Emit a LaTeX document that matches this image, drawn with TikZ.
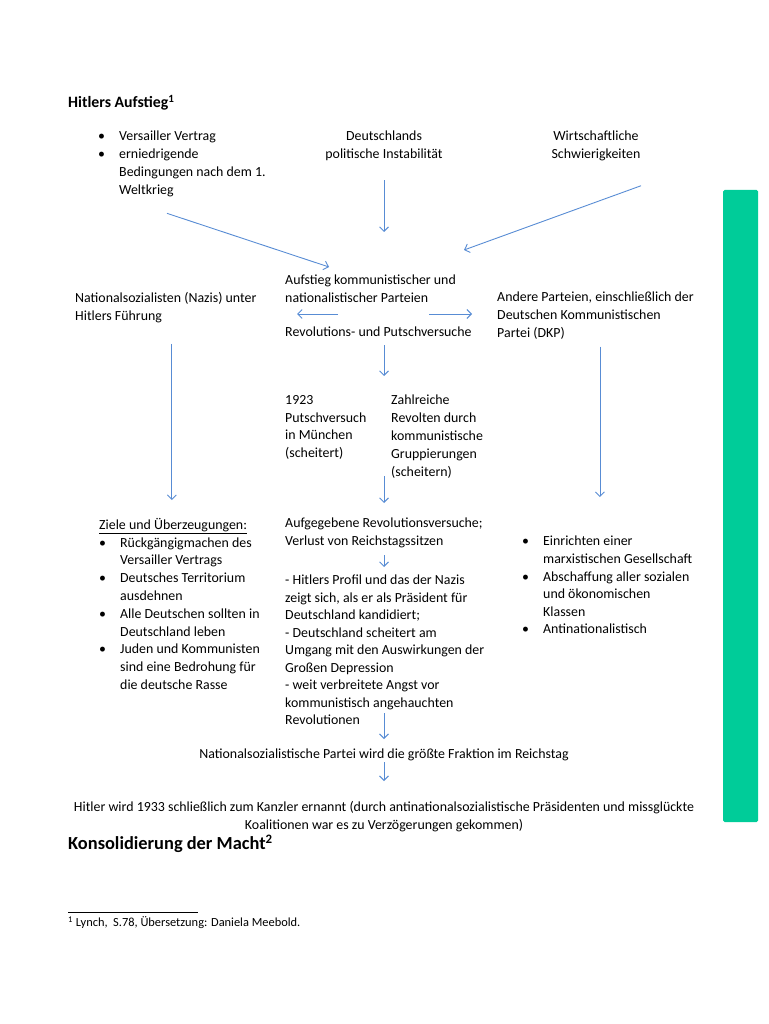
\documentclass[tikz,border=0pt]{standalone}
\usepackage{fontspec}
\setmainfont{Carlito}
\usetikzlibrary{arrows.meta}
\definecolor{arrowblue}{RGB}{88,140,212}
\definecolor{sidegreen}{RGB}{0,204,153}
\newcommand{\bul}{\makebox[21pt][l]{\textbullet}}
\newcommand{\hang}{\hspace*{21pt}}
\begin{document}
\begin{tikzpicture}[x=1pt, y=-1pt, >={Straight Barb[length=4.5pt,width=9pt]},
	txt/.style={inner sep=0pt, align=left, font=\fontsize{13.9}{17.8}\selectfont},
	ctr/.style={txt, align=center},
	arr/.style={->, draw=arrowblue, line width=0.9pt}]
	\useasboundingbox (0,0) rectangle (768,1024);
	\fill[sidegreen, rounded corners=1.5pt] (723,190) rectangle (758,822);
	% top row
	\node[txt, anchor=west, font=\bfseries\fontsize{15.8}{18}\selectfont] (title) at (68,102.5) {Hitlers Aufstieg\textsuperscript{1}};
	\node[txt, anchor=north west] (vers) at (98,131) {\bul Versailler Vertrag\\\bul erniedrigende\\\hang Bedingungen nach dem 1.\\\hang Weltkrieg};
	\node[ctr, anchor=north] (pol) at (384,131) {Deutschlands\\politische Instabilität};
	\node[ctr, anchor=north] (wirt) at (596,131) {Wirtschaftliche\\Schwierigkeiten};
	% middle row
	\node[txt, anchor=north west] (auf) at (285,275) {Aufstieg kommunistischer und\\nationalistischer Parteien};
	\node[txt, anchor=north west] (rev) at (285,327) {Revolutions- und Putschversuche};
	\node[txt, anchor=north west] (nazis) at (75,292) {Nationalsozialisten (Nazis) unter\\Hitlers Führung};
	\node[txt, anchor=north west] (andere) at (497,292) {Andere Parteien, einschließlich der\\Deutschen Kommunistischen\\Partei (DKP)};
	\node[txt, anchor=north west] (putsch) at (285,395) {1923\\Putschversuch\\in München\\(scheitert)};
	\node[txt, anchor=north west] (zahl) at (391,395) {Zahlreiche\\Revolten durch\\kommunistische\\Gruppierungen\\(scheitern)};
	% lower row
	\node[txt, anchor=north west] (ziele) at (99,518) {\underline{Ziele und Überzeugungen:}\\\bul Rückgängigmachen des\\\hang Versailler Vertrags\\\bul Deutsches Territorium\\\hang ausdehnen\\\bul Alle Deutschen sollten in\\\hang Deutschland leben\\\bul Juden und Kommunisten\\\hang sind eine Bedrohung für\\\hang die deutsche Rasse};
	\node[txt, anchor=north west] (aufg) at (285,518) {Aufgegebene Revolutionsversuche;\\Verlust von Reichstagssitzen};
	\node[txt, anchor=north west, font=\fontsize{13.9}{17.5}\selectfont] (profil) at (285,575) {- Hitlers Profil und das der Nazis\\zeigt sich, als er als Präsident für\\Deutschland kandidiert;\\- Deutschland scheitert am\\Umgang mit den Auswirkungen der\\Großen Depression\\- weit verbreitete Angst vor\\kommunistisch angehauchten\\Revolutionen};
	\node[txt, anchor=north west, font=\fontsize{13.9}{17.6}\selectfont] (marx) at (522,536) {\bul Einrichten einer\\\hang marxistischen Gesellschaft\\\bul Abschaffung aller sozialen\\\hang und ökonomischen\\\hang Klassen\\\bul Antinationalistisch};
	\node[ctr, anchor=north] (nsdap) at (384,749) {Nationalsozialistische Partei wird die größte Fraktion im Reichstag};
	\node[ctr, anchor=north] (kanzler) at (384,801) {Hitler wird 1933 schließlich zum Kanzler ernannt (durch antinationalsozialistische Präsidenten und missglückte\\Koalitionen war es zu Verzögerungen gekommen)};
	\node[txt, anchor=west, font=\bfseries\fontsize{18.4}{21}\selectfont] (kons) at (68,843.5) {Konsolidierung der Macht\textsuperscript{2}};
	% footnote
	\draw[line width=0.8pt] (68,912) -- (198,912);
	\node[txt, anchor=west, font=\fontsize{12.4}{15}\selectfont] (fn) at (68,923) {\textsuperscript{1} Lynch,\ \ S.78, Übersetzung: Daniela Meebold.};
	% arrows
	\draw[arr] ([xshift=69pt,yshift=-16.5pt]vers.south west) -- ([xshift=44pt,yshift=8pt]auf.north west);
	\draw[arr, shorten <=19pt, shorten >=43pt] (pol.south) -- (pol.south |- auf.north);
	\draw[arr] ([xshift=45pt,yshift=-24.5pt]wirt.south) -- ([xshift=179pt,yshift=25pt]auf.north west);
	\draw[arr] ([xshift=53pt,yshift=13pt]rev.north west) -- ([xshift=12pt,yshift=13pt]rev.north west);
	\draw[arr] ([xshift=144pt,yshift=13pt]rev.north west) -- ([xshift=187pt,yshift=13pt]rev.north west);
	\draw[arr, shorten <=8pt, shorten >=19pt] (rev.south -| nsdap.north) -- (zahl.north -| nsdap.north);
	\draw[arr, shorten <=21pt, shorten >=18pt] ([xshift=6pt]nazis.south) -- ([xshift=6pt]nazis.south |- ziele.north);
	\draw[arr, shorten <=7pt, shorten >=39pt] ([xshift=4.5pt]andere.south) -- ([xshift=4.5pt]andere.south |- marx.north);
	\draw[arr, shorten <=-2pt, shorten >=15pt] (zahl.south -| nsdap.north) -- (aufg.north -| nsdap.north);
	\draw[arr, shorten <=7pt, shorten >=8pt] (aufg.south -| nsdap.north) -- (profil.north -| nsdap.north);
	\draw[arr, shorten <=-11.7pt, shorten >=10pt] (profil.south -| nsdap.north) -- (nsdap.north);
	\draw[arr, shorten <=1pt, shorten >=20pt] (nsdap.south) -- (kanzler.north);
\end{tikzpicture}
\end{document}
